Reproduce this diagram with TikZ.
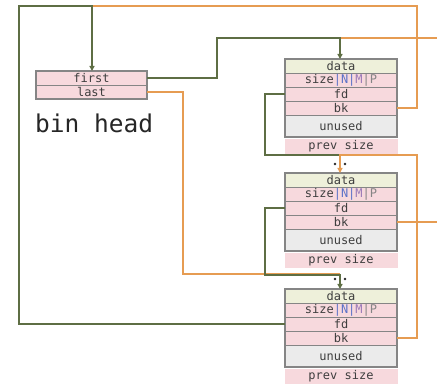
\documentclass[tikz,border=0pt]{standalone}
\usepackage{fontspec}
\setmonofont{DejaVu Sans Mono}
\usetikzlibrary{arrows.meta,positioning,calc}

\definecolor{rowpink}{HTML}{F7D9DD}
\definecolor{datafill}{HTML}{EEF0DA}
\definecolor{unusedfill}{HTML}{EBEBEB}
\definecolor{framegray}{HTML}{858585}
\definecolor{textgray}{HTML}{3E3E3E}
\definecolor{linkgreen}{HTML}{5E6E44}
\definecolor{linkorange}{HTML}{E69C52}
\definecolor{flagblue}{HTML}{5B72C8}
\definecolor{flagpurple}{HTML}{9A7AB8}

\tikzset{
  row/.style={draw=framegray, line width=0.5pt, fill=rowpink, inner sep=0pt,
    outer sep=0pt, minimum width=112pt, minimum height=13.5pt, text=textgray,
    font=\ttfamily\fontsize{12}{12}\selectfont},
  fdlink/.style={draw=linkgreen, line width=2pt},
  bklink/.style={draw=linkorange, line width=2pt},
  tip/.style={-{Triangle[length=5pt,width=5pt]}},
  junction/.style={circle, fill=black!85, inner sep=0pt, minimum size=2.8pt},
}

% one free chunk: #1 = name prefix, #2 = top edge
\newcommand\freechunk[2]{%
  \node[row, fill=datafill, minimum height=14pt, anchor=north west] (#1data) at (285,#2) {data};
  \node[row, minimum height=14pt, below=0pt of #1data] (#1size)
    {size\textcolor{flagblue}{|N|}\textcolor{flagpurple}{M}\textcolor{framegray}{|P}};
  \node[row, minimum height=14pt, below=0pt of #1size] (#1fd) {fd};
  \node[row, minimum height=14pt, below=0pt of #1fd] (#1bk) {bk};
  \node[row, fill=unusedfill, minimum height=22pt, below=0pt of #1bk] (#1unused) {unused};
  \node[row, draw=rowpink, minimum height=14pt, below=2pt of #1unused] (#1prev) {prev size};
  \draw[framegray, line width=1.4pt] (#1data.north west) rectangle (#1unused.south east);
}

\begin{document}
\begin{tikzpicture}[x=1pt, y=-1pt]
\useasboundingbox (0,0) rectangle (437,385);

% bin head
\node[row, minimum width=111pt, minimum height=14pt, anchor=north west] (first) at (36,71) {first};
\node[row, minimum width=111pt, minimum height=14pt, below=0pt of first] (last) {last};
\draw[framegray, line width=1.2pt] (first.north west) rectangle (last.south east);
\node[anchor=base west, inner sep=0pt, text=black!85,
  font=\ttfamily\fontsize{24.5}{24.5}\selectfont] (binlabel) at (35,133) {bin head};

% chunks
\freechunk{ca}{59}
\freechunk{cb}{173}
\freechunk{cc}{289}

% links that leave the picture on the right
\coordinate (outa) at (437,38);
\coordinate (outb) at (437,222);
\draw[bklink] (outa) -- (340,38);
\draw[bklink] (cbbk.east) -- (outb);

% bk of the first chunk back to the bin head
\draw[bklink] (cabk.east) -| (417,6) -- (92,6);
% fd of the last chunk back to the bin head
\draw[fdlink, tip] (ccfd.west) -| (19,6) -- (92,6) -- (first.north -| 92,0);

% bin head first -> first chunk
\draw[fdlink, tip] (first.east) -| (217,38) -- (340,38) -- (cadata.north -| 340,0);

% fd of the first chunk -> second chunk
\draw[fdlink] (cafd.west) -| (265,155) -- (340,155);
% bk of the last chunk -> second chunk
\draw[bklink, tip] (ccbk.east) -| (417,155) -- (340,155) -- (cbdata.north -| 340,0);

% bin head last -> last chunk
\draw[bklink] (last.east) -| (183,274) -- (340,274);
% fd of the second chunk -> last chunk
\draw[fdlink, tip] (cbfd.west) -| (265,275) -- (340,275) -- (ccdata.north -| 340,0);

% junction marks
\node[junction] (ja) at (335,164) {};
\node[junction] (jb) at (345,164) {};
\node[junction] (jc) at (335,279) {};
\node[junction] (jd) at (345,279) {};
\end{tikzpicture}
\end{document}
